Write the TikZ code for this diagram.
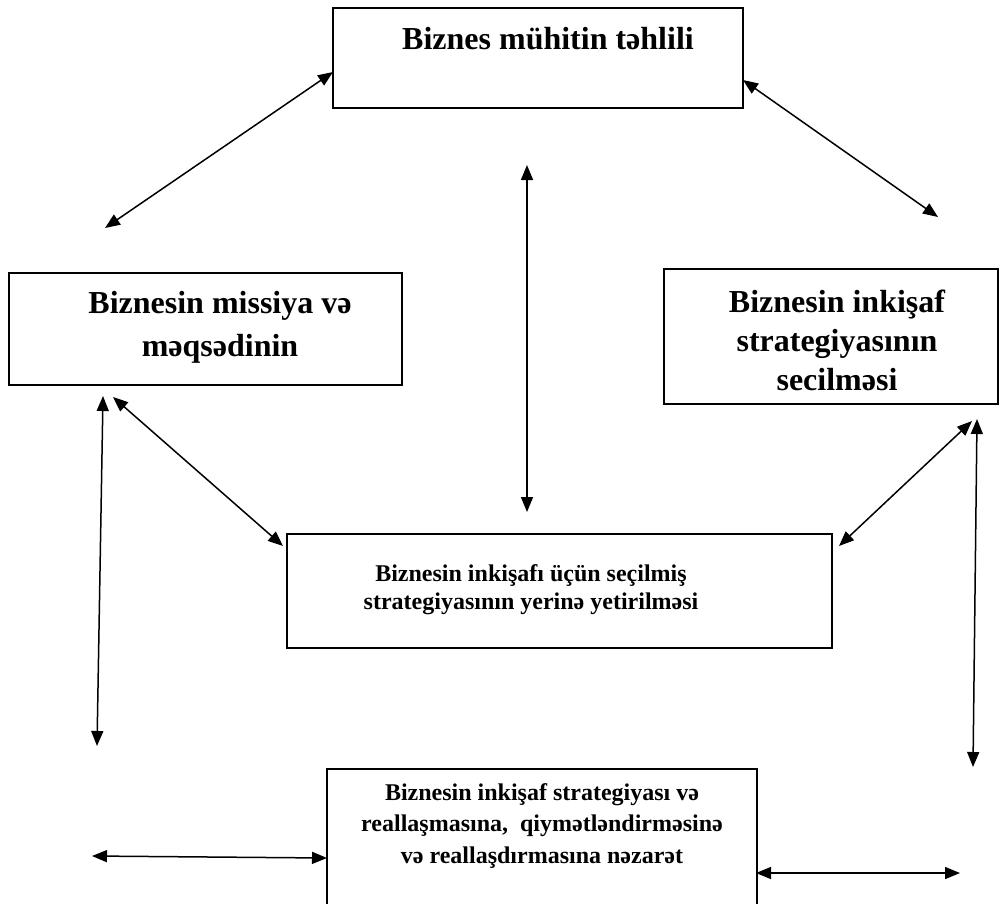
\documentclass[tikz,border=0pt]{standalone}
\usepackage{fontspec}
\setmainfont{Liberation Serif}
\usetikzlibrary{arrows.meta}
\begin{document}
\begin{tikzpicture}[x=1pt,y=-1pt,
  box/.style={draw=black,line width=2pt},
  lbl/.style={font=\bfseries,align=center,inner sep=0pt,anchor=center},
  dbl/.style={line width=1.5pt,{Triangle[length=15pt,width=12pt]}-{Triangle[length=15pt,width=12pt]}}]
\useasboundingbox[fill=white] (0,0) rectangle (1000,903);
% boxes
\draw[box] (333,8) rectangle (743,108);
\node[lbl,font=\bfseries\fontsize{32}{43}\selectfont] (t1) at (548,39) {Biznes mühitin təhlili};
\draw[box] (9,273) rectangle (402,385);
\node[lbl,font=\bfseries\fontsize{32}{43}\selectfont] (t2) at (220,327) {Biznesin missiya və\\məqsədinin};
\draw[box] (664,269) rectangle (998,404);
\node[lbl,font=\bfseries\fontsize{32}{39}\selectfont] (t3) at (837,340) {Biznesin inkişaf\\strategiyasının\\secilməsi};
\draw[box] (287,534) rectangle (832,648);
\node[lbl,font=\bfseries\fontsize{24}{28}\selectfont] (t4) at (531,590) {Biznesin inkişafı üçün seçilmiş\\strategiyasının yerinə yetirilməsi};
\draw[box] (327,910) -- (327,769) -- (757,769) -- (757,910);
\node[lbl,font=\bfseries\fontsize{24}{31.5}\selectfont] (t5) at (542,826) {Biznesin inkişaf strategiyası və\\reallaşmasına,\ \ qiymətləndirməsinə\\və reallaşdırmasına nəzarət};
% arrow endpoints
\coordinate (a1) at (105,228); \coordinate (b1) at (333,72);
\coordinate (a2) at (743,80); \coordinate (b2) at (938,217);
\coordinate (a3) at (527,165); \coordinate (b3) at (527,512);
\coordinate (a4) at (103,396); \coordinate (b4) at (97,746);
\coordinate (a5) at (113,397); \coordinate (b5) at (283,546);
\coordinate (a6) at (972,421); \coordinate (b6) at (839,546);
\coordinate (a7) at (977,419); \coordinate (b7) at (973,767);
\coordinate (a8) at (92,856); \coordinate (b8) at (327,858);
\coordinate (a9) at (756,873); \coordinate (b9) at (960,873);
\foreach \i in {1,...,9} {\draw[dbl] (a\i) -- (b\i);}
\end{tikzpicture}
\end{document}
